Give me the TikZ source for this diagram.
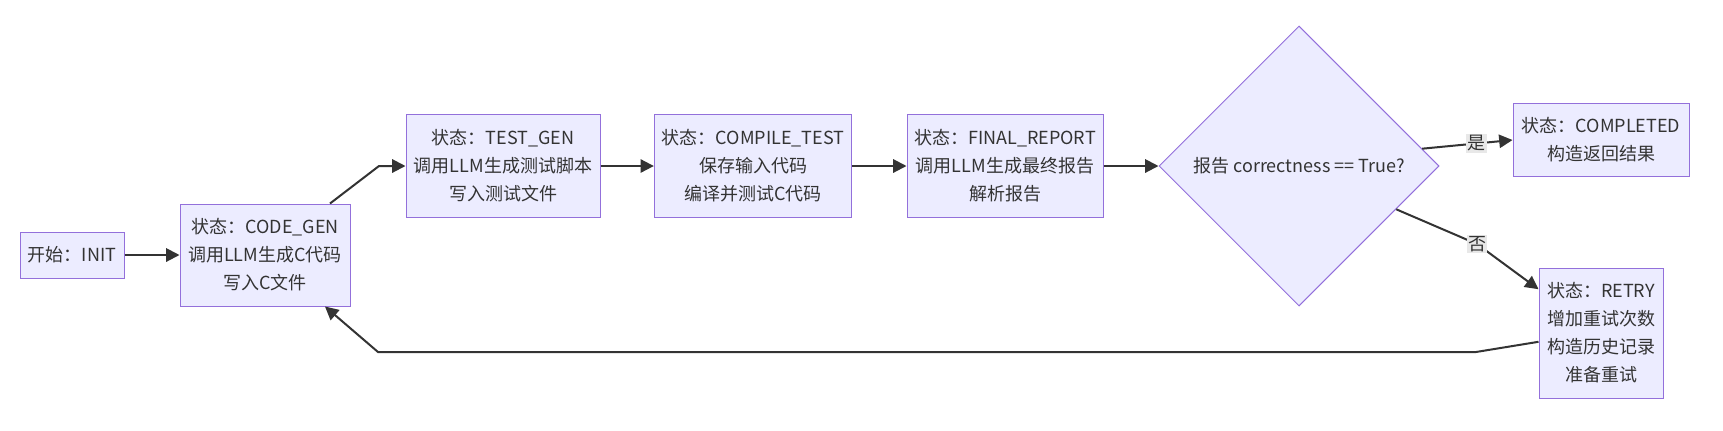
\documentclass[tikz,border=0pt]{standalone}
\usepackage{fontspec}
\setmainfont{Noto Sans CJK SC}
\usetikzlibrary{arrows.meta,shapes.geometric,calc}

\definecolor{nodeFill}{HTML}{ECECFF}
\definecolor{nodeLine}{HTML}{9370DB}
\definecolor{edgeLine}{HTML}{333333}
\definecolor{labelFill}{HTML}{E8E8E8}

\begin{document}
\begin{tikzpicture}[x=0.75pt, y=-0.75pt,
		every node/.style={align=center, text=edgeLine, font=\fontsize{13.5}{21}\selectfont},
		stateBox/.style={
				draw=nodeLine, fill=nodeFill, line width=0.75pt,
				inner sep=0pt
			},
		checkVertex/.style={
				diamond, draw=nodeLine, fill=nodeFill, line width=0.75pt,
				aspect=1, minimum size=210pt, inner sep=0pt
			},
		flow/.style={draw=edgeLine, line width=1.5pt, -{Triangle[length=10pt,width=10pt]}},
		edgeLabel/.style={fill=labelFill, inner sep=1pt}
	]
	\useasboundingbox (0,0) rectangle (1723,430);

	% states
	\node[stateBox, minimum width=78pt, minimum height=34.5pt] (init) at (72,255) {开始：INIT};
	\node[stateBox, minimum width=127.5pt, minimum height=76.5pt] (codegen) at (265,255)
	{状态：CODE\_GEN\\调用LLM生成C代码\\写入C文件};
	\node[stateBox, minimum width=145.5pt, minimum height=77pt] (testgen) at (503,166)
	{状态：TEST\_GEN\\调用LLM生成测试脚本\\写入测试文件};
	\node[stateBox, minimum width=148pt, minimum height=77pt] (compile) at (753,166)
	{状态：COMPILE\_TEST\\保存输入代码\\编译并测试C代码};
	\node[stateBox, minimum width=147pt, minimum height=77pt] (report) at (1005,166)
	{状态：FINAL\_REPORT\\调用LLM生成最终报告\\解析报告};
	\node[checkVertex] (check) at (1299,166) {报告 correctness == True?};
	\node[stateBox, minimum width=132pt, minimum height=55pt] (done) at (1601,140)
	{状态：COMPLETED\\构造返回结果};
	\node[stateBox, minimum width=93pt, minimum height=97.5pt] (retry) at (1601,333)
	{状态：RETRY\\增加重试次数\\构造历史记录\\准备重试};

	% bends
	\coordinate (upBend) at (379,166);
	\coordinate (noBend) at (1477,244);
	\coordinate (backRight) at (1476,352);
	\coordinate (backLeft) at (378,352);

	% transitions
	\draw[flow] (init) -- (codegen);
	\draw[flow] ($(codegen.north)+(65,0)$) -- (upBend) -- (testgen.west);
	\draw[flow] (testgen) -- (compile);
	\draw[flow] (compile) -- (report);
	\draw[flow] (report) -- (check);
	\draw[flow] (check.8) -- node[edgeLabel, pos=0.6] {是} (done.west);
	\draw[flow] (check.-24) -- (noBend) node[edgeLabel] {否} -- (retry.145);
	\draw[flow] (retry.188) -- (backRight) -- (backLeft) -- ($(codegen.south)+(60,0)$);
\end{tikzpicture}
\end{document}
